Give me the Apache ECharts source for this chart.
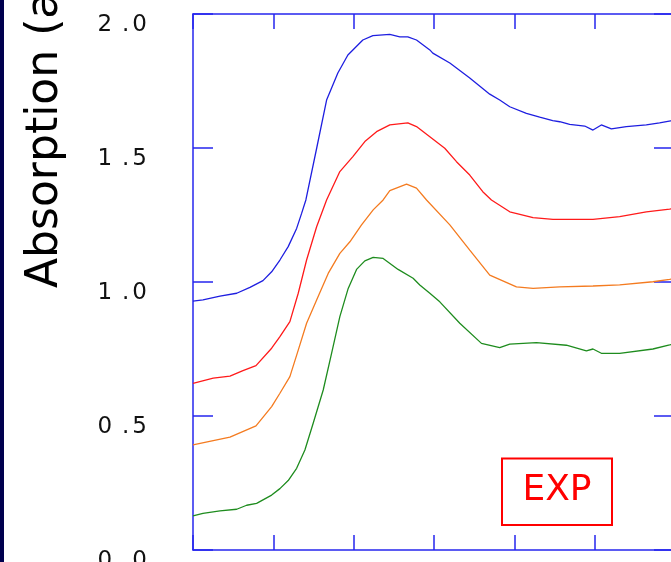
<!DOCTYPE html>
<html>
<head>
<meta charset="utf-8">
<script src="https://cdn.jsdelivr.net/npm/echarts@6/dist/echarts.min.js"></script>
<style>
html,body{margin:0;padding:0;background:#fff;}
#chart{width:671px;height:562px;}
</style>
</head>
<body>
<div id="chart"></div>
<script>
// ---- data (x in arbitrary energy units 0..6, y = absorption) ----
const yTicks = [0, 0.5, 1.0, 1.5, 2.0];
const seriesNames = ['blue', 'red', 'orange', 'green'];
const seriesColors = ['#1e1ee0', '#ff1a1a', '#f47b20', '#1e8c1e'];

const blueCurve = [
  [0,0.929],[0.124,0.933],[0.336,0.947],[0.544,0.958],[0.709,0.980],[0.871,1.005],
  [0.979,1.038],[1.082,1.082],[1.185,1.132],[1.290,1.200],[1.352,1.256],[1.405,1.306],
  [1.54,1.50],[1.663,1.679],[1.803,1.780],[1.928,1.847],[2.114,1.903],[2.239,1.919],
  [2.450,1.924],[2.575,1.915],[2.674,1.915],[2.782,1.903],[2.948,1.866],[2.985,1.854],
  [3.197,1.817],[3.445,1.761],[3.694,1.701],[3.818,1.679],[3.943,1.654],[4.150,1.629],
  [4.316,1.615],[4.478,1.602],[4.565,1.598],[4.689,1.588],[4.876,1.582],[4.979,1.567],
  [5.083,1.586],[5.208,1.571],[5.394,1.580],[5.643,1.586],[5.808,1.594],[5.945,1.601],[6.0,1.603]
];
const redCurve = [
  [0,0.622],[0.252,0.641],[0.460,0.649],[0.622,0.669],[0.784,0.688],[0.979,0.753],
  [1.082,0.796],[1.206,0.852],[1.310,0.958],[1.414,1.082],[1.539,1.206],[1.663,1.306],
  [1.828,1.412],[1.990,1.468],[2.139,1.524],[2.285,1.561],[2.450,1.586],[2.674,1.594],
  [2.782,1.580],[2.948,1.542],[3.134,1.499],[3.280,1.449],[3.445,1.399],[3.607,1.337],
  [3.715,1.306],[3.943,1.262],[4.233,1.240],[4.481,1.234],[4.979,1.234],[5.311,1.244],
  [5.643,1.262],[5.933,1.272],[6.0,1.275]
];
const orangeCurve = [
  [0,0.392],[0.252,0.408],[0.460,0.421],[0.784,0.463],[0.979,0.535],[1.082,0.585],
  [1.206,0.647],[1.310,0.746],[1.414,0.846],[1.539,0.933],[1.683,1.032],[1.828,1.107],
  [1.953,1.150],[2.098,1.213],[2.243,1.269],[2.367,1.306],[2.450,1.341],[2.658,1.365],
  [2.782,1.350],[2.907,1.306],[3.197,1.213],[3.445,1.119],[3.694,1.026],[4.026,0.982],
  [4.233,0.976],[4.565,0.982],[4.979,0.985],[5.311,0.989],[5.725,1.001],[5.933,1.010],[6.0,1.013]
];
const greenCurve = [
  [0,0.127],[0.124,0.137],[0.336,0.146],[0.544,0.152],[0.668,0.167],[0.792,0.174],
  [0.979,0.205],[1.082,0.229],[1.185,0.259],[1.290,0.305],[1.393,0.373],[1.496,0.473],
  [1.621,0.597],[1.725,0.734],[1.828,0.871],[1.932,0.976],[2.036,1.047],[2.139,1.079],
  [2.243,1.092],[2.367,1.088],[2.553,1.047],[2.740,1.014],[2.823,0.989],[2.948,0.958],
  [3.072,0.926],[3.321,0.846],[3.591,0.771],[3.818,0.755],[3.943,0.768],[4.275,0.774],
  [4.648,0.764],[4.897,0.743],[4.979,0.750],[5.083,0.734],[5.311,0.734],[5.725,0.750],
  [5.933,0.765],[6.0,0.770]
];
const curves = [blueCurve, redCurve, orangeCurve, greenCurve];
const yAxisTitle = 'Absorption (a.u.)';
const boxLabel = 'EXP';

// ---- chart ----
const axisBlue = '#2626ee';
const font = 'DejaVu Sans';
const chart = echarts.init(document.getElementById('chart'), null, {renderer: 'canvas'});

const baseX = {
  type: 'value', min: 0, max: 6, interval: 1,
  axisLine: {show: true, onZero: false, lineStyle: {color: axisBlue, width: 1.5}},
  axisTick: {show: true, inside: true, length: 15, lineStyle: {color: axisBlue, width: 1.5}},
  axisLabel: {show: false},
  splitLine: {show: false}
};
const baseY = {
  type: 'value', min: yTicks[0], max: yTicks[yTicks.length - 1], interval: 0.5,
  axisLine: {show: true, onZero: false, lineStyle: {color: axisBlue, width: 1.5}},
  axisTick: {show: true, inside: true, length: 20, lineStyle: {color: axisBlue, width: 1.5}},
  splitLine: {show: false}
};

chart.setOption({
  animation: false,
  backgroundColor: '#ffffff',
  grid: {left: 193, top: 14, width: 482, height: 536, containLabel: false, outerBoundsMode: 'none'},
  xAxis: [
    Object.assign({}, baseX, {position: 'bottom'}),
    Object.assign({}, baseX, {position: 'top'})
  ],
  yAxis: [
    Object.assign({}, baseY, {
      position: 'left',
      axisLabel: {
        show: true, margin: 46, verticalAlign: 'top',
        formatter: function (v) {
          const p = v.toFixed(1).split('.');
          return '{i|' + p[0] + '}{d|.}{f|' + p[1] + '}';
        },
        rich: {
          i: {fontFamily: font, fontSize: 23, color: '#111'},
          d: {fontFamily: font, fontSize: 23, color: '#111', padding: [0, 3, 0, 10]},
          f: {fontFamily: font, fontSize: 23, color: '#111'}
        }
      }
    }),
    Object.assign({}, baseY, {
      position: 'right',
      axisTick: {show: true, inside: true, length: 21, lineStyle: {color: axisBlue, width: 1.5}},
      axisLabel: {show: false}
    })
  ],
  series: curves.map(function (c, i) {
    return {
      name: seriesNames[i], type: 'line', data: c, showSymbol: false, symbol: 'none',
      smooth: false, lineStyle: {color: seriesColors[i], width: 1.3},
      itemStyle: {color: seriesColors[i]}, z: 3
    };
  }),
  graphic: [
    {type: 'rect', left: 0, top: 0, shape: {x: 0, y: 0, width: 4, height: 562}, style: {fill: '#00004e'}},
    {type: 'text', x: 46, y: 288, rotation: Math.PI / 2,
     style: {text: yAxisTitle, fontFamily: font, fontSize: 44, fill: '#000', align: 'left', verticalAlign: 'middle'}},
    {type: 'rect', shape: {x: 502, y: 458.5, width: 110, height: 66.5},
     style: {fill: 'none', stroke: '#ff0000', lineWidth: 2}},
    {type: 'text', x: 557, y: 491,
     style: {text: boxLabel, fontFamily: font, fontSize: 36, fill: '#ff0000', align: 'center', verticalAlign: 'middle'}}
  ]
});
</script>
</body>
</html>
